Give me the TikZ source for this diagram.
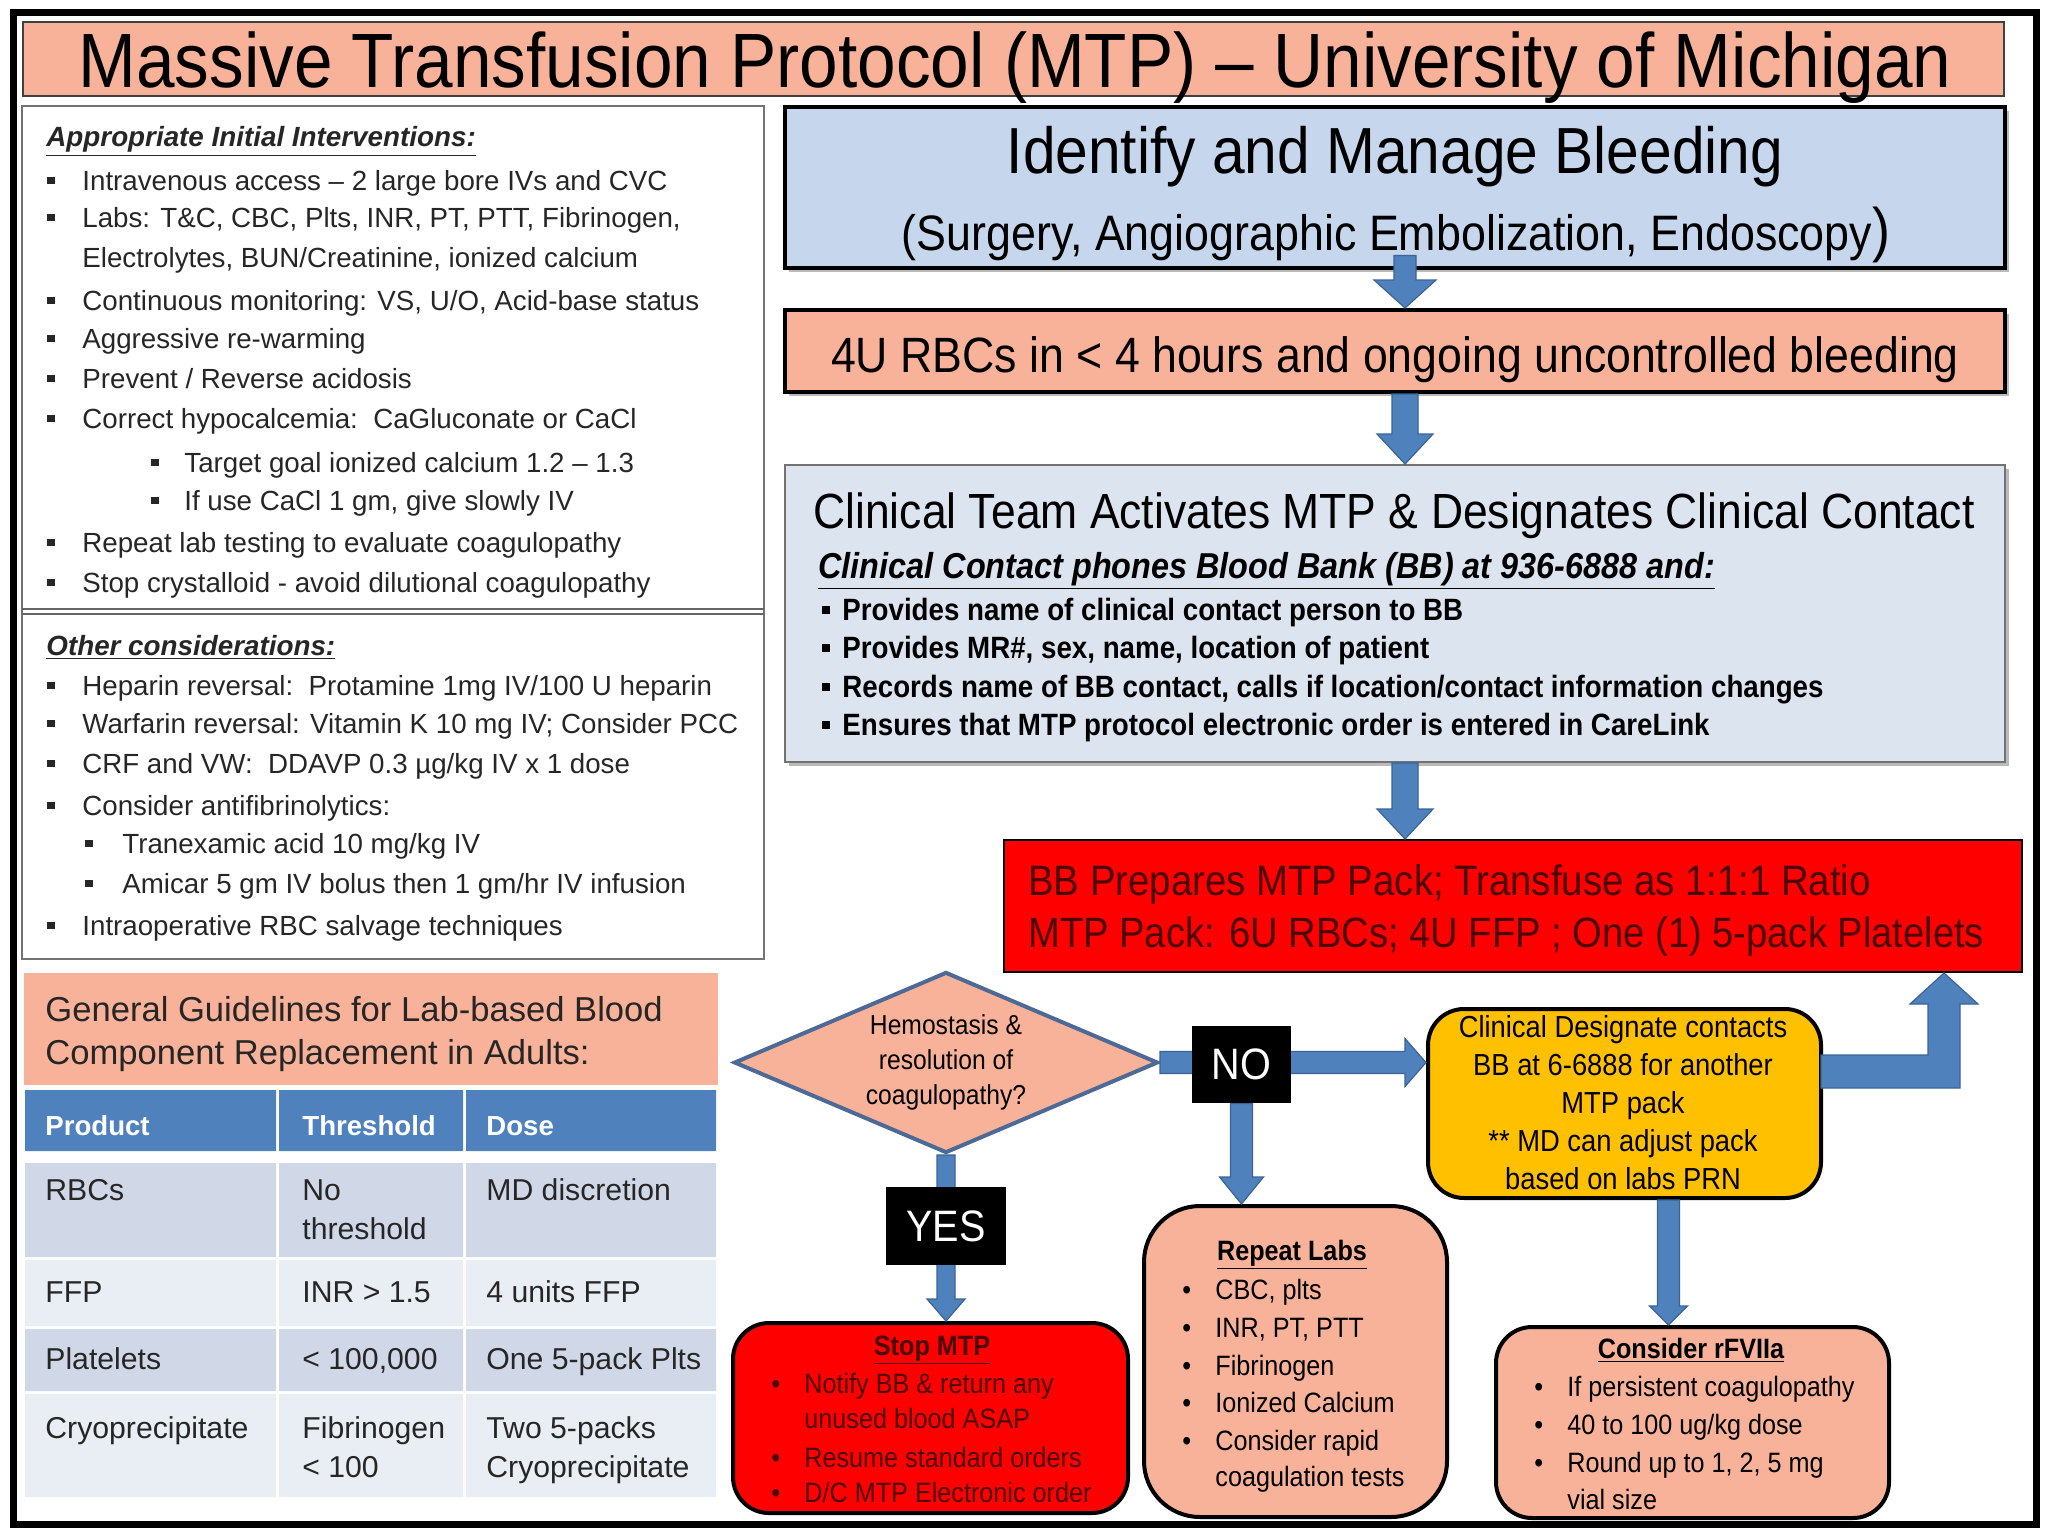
\documentclass[tikz,border=0pt]{standalone}
\usepackage{fontspec}
\setmainfont{Liberation Sans}[FakeStretch=0.9]
\newfontfamily\regf{Liberation Sans}
\usetikzlibrary{shapes.geometric,calc,shadows}
\definecolor{salmon}{HTML}{F9B29A}
\definecolor{idblue}{HTML}{C6D6EC}
\definecolor{clinblue}{HTML}{DCE4F0}
\definecolor{hdrblue}{HTML}{4F81BD}
\definecolor{rowdark}{HTML}{D0D8E8}
\definecolor{rowlight}{HTML}{E9EDF4}
\definecolor{arrowblue}{HTML}{4F81BD}
\definecolor{arrowedge}{HTML}{3A6496}
\definecolor{yelc}{HTML}{FFC000}
\definecolor{redc}{HTML}{FF0000}
\definecolor{darkredc}{HTML}{4A0505}
\definecolor{diaedge}{HTML}{4D6A96}
\definecolor{txtc}{HTML}{262626}
\newcommand{\fs}[1]{\fontsize{#1}{#1}\selectfont}
\newcommand{\sqb}[1]{\makebox[#1][l]{\rule[0.2em]{0.26em}{0.26em}}}
\newcommand{\dotb}[1]{\makebox[#1][l]{•}}
% vertical block arrow: #1 start, #2 target anchor, #3 shaft half, #4 head half, #5 head length, #6 id
\newcommand{\varrow}[6]{%
  \coordinate (#6s) at (#1);
  \coordinate (#6t) at (#6s |- #2);
  \filldraw[blockarrow] ($(#6s)+(-#3,0)$) -- ($(#6s)+(#3,0)$) -- ($(#6t)+(#3,-#5)$) -- ($(#6t)+(#4,-#5)$) -- (#6t) -- ($(#6t)+(-#4,-#5)$) -- ($(#6t)+(-#3,-#5)$) -- cycle;}
% horizontal block arrow (to the right)
\newcommand{\harrow}[6]{%
  \coordinate (#6s) at (#1);
  \coordinate (#6t) at (#6s -| #2);
  \filldraw[blockarrow] ($(#6s)+(0,-#3)$) -- ($(#6t)+(-#5,-#3)$) -- ($(#6t)+(-#5,-#4)$) -- (#6t) -- ($(#6t)+(-#5,#4)$) -- ($(#6t)+(-#5,#3)$) -- ($(#6s)+(0,#3)$) -- cycle;}
\pgfdeclarelayer{front}
\pgfsetlayers{main,front}
\begin{document}
\begin{tikzpicture}[x=0.5pt,y=-0.5pt,
  lt/.style={anchor=base west, inner sep=0pt, text=txtc, font=\regf\fs{13.85}},
  lh/.style={anchor=base west, inner sep=0pt, text=txtc, font=\regf\bfseries\itshape\fs{13.9}},
  tb/.style={anchor=base west, inner sep=0pt, text=txtc, font=\regf\fs{15.1}},
  th/.style={anchor=base west, inner sep=0pt, text=white, font=\regf\bfseries\fs{13.8}},
  ct/.style={anchor=base, inner sep=0pt},
  bt/.style={anchor=base west, inner sep=0pt},
  blockarrow/.style={fill=arrowblue, draw=arrowedge, line width=0.6pt},
  flowbox/.style={draw=black, line width=2pt, inner sep=0pt},
  shadowed/.style={drop shadow={shadow xshift=2pt, shadow yshift=-2pt, fill=black!45, opacity=0.6}},
]
\useasboundingbox (0,0) rectangle (2048,1536);
\fill[white] (0,0) rectangle (2048,1536);
\draw[line width=3.5pt] (13,13) rectangle (2036,1524);

% ---- title
\node[draw=black!75, line width=0.8pt, fill=salmon, minimum width=990.5pt, minimum height=37pt, inner sep=0pt] (title) at (1013.5,59) {};
\node[ct, font=\fs{38.5}] (ttl) at (1015,88) {Massive Transfusion Protocol (MTP) – University of Michigan};

% ---- left panel
\draw[draw=black!55, line width=1.2pt, fill=white] (22,106) rectangle (764,959);
\draw[draw=black!60, line width=1pt] (22,609) -- (764,609) (22,614) -- (764,614);

\node[lh] (h1) at (46,147) {\underline{Appropriate Initial Interventions:}};
\node[lt] (a1) at (47,190) {\sqb{17.5pt}Intravenous access – 2 large bore IVs and CVC};
\node[lt] (a2) at (47,227) {\sqb{17.5pt}Labs: T\&C, CBC, Plts, INR, PT, PTT, Fibrinogen,};
\node[lt] (a3) at (82,267) {Electrolytes, BUN/Creatinine, ionized calcium};
\node[lt] (a4) at (47,310) {\sqb{17.5pt}Continuous monitoring: VS, U/O, Acid-base status};
\node[lt] (a5) at (47,348) {\sqb{17.5pt}Aggressive re-warming};
\node[lt] (a6) at (47,388) {\sqb{17.5pt}Prevent / Reverse acidosis};
\node[lt] (a7) at (47,428) {\sqb{17.5pt}Correct hypocalcemia:\ \ CaGluconate or CaCl};
\node[lt] (a8) at (151,472) {\sqb{16.5pt}Target goal ionized calcium 1.2 – 1.3};
\node[lt] (a9) at (151,510) {\sqb{16.5pt}If use CaCl 1 gm, give slowly IV};
\node[lt] (a10) at (47,552) {\sqb{17.5pt}Repeat lab testing to evaluate coagulopathy};
\node[lt] (a11) at (47,592) {\sqb{17.5pt}Stop crystalloid - avoid dilutional coagulopathy};

\node[lh] (h2) at (46,655) {\underline{Other considerations:}};
\node[lt] (b1) at (47,695) {\sqb{17.5pt}Heparin reversal:\ \ Protamine 1mg IV/100 U heparin};
\node[lt] (b2) at (47,733) {\sqb{17.5pt}Warfarin reversal: Vitamin K 10 mg IV; Consider PCC};
\node[lt] (b3) at (47,773) {\sqb{17.5pt}CRF and VW:\ \ DDAVP 0.3 µg/kg IV x 1 dose};
\node[lt] (b4) at (47,815) {\sqb{17.5pt}Consider antifibrinolytics:};
\node[lt] (b5) at (85,853) {\sqb{18.5pt}Tranexamic acid 10 mg/kg IV};
\node[lt] (b6) at (85,893) {\sqb{18.5pt}Amicar 5 gm IV bolus then 1 gm/hr IV infusion};
\node[lt] (b7) at (47,935) {\sqb{17.5pt}Intraoperative RBC salvage techniques};

% ---- guidelines table
\fill[salmon] (24,973) rectangle (718,1085);
\node[bt, text=txtc, font=\regf\fs{17.3}] (g1) at (45,1021) {General Guidelines for Lab-based Blood};
\node[bt, text=txtc, font=\regf\fs{17.3}] (g2) at (45,1064) {Component Replacement in Adults:};
\fill[hdrblue] (25,1090) rectangle (276,1151) (279,1090) rectangle (463,1151) (466,1090) rectangle (716,1151);
\fill[rowdark] (25,1163) rectangle (276,1257) (279,1163) rectangle (463,1257) (466,1163) rectangle (716,1257);
\fill[rowlight] (25,1260) rectangle (276,1326) (279,1260) rectangle (463,1326) (466,1260) rectangle (716,1326);
\fill[rowdark] (25,1329) rectangle (276,1391) (279,1329) rectangle (463,1391) (466,1329) rectangle (716,1391);
\fill[rowlight] (25,1394) rectangle (276,1497) (279,1394) rectangle (463,1497) (466,1394) rectangle (716,1497);
\node[th] (t01) at (45,1135) {Product};
\node[th] (t02) at (302,1135) {Threshold};
\node[th] (t03) at (486,1135) {Dose};
\node[tb] (t11) at (45,1200) {RBCs};
\node[tb] (t12) at (302,1200) {No};
\node[tb] (t12b) at (302,1239) {threshold};
\node[tb] (t13) at (486,1200) {MD discretion};
\node[tb] (t21) at (45,1302) {FFP};
\node[tb] (t22) at (302,1302) {INR > 1.5};
\node[tb] (t23) at (486,1302) {4 units FFP};
\node[tb] (t31) at (45,1369) {Platelets};
\node[tb] (t32) at (302,1369) {< 100,000};
\node[tb] (t33) at (486,1369) {One 5-pack Plts};
\node[tb] (t41) at (45,1438) {Cryoprecipitate};
\node[tb] (t42) at (302,1438) {Fibrinogen};
\node[tb] (t42b) at (302,1477) {< 100};
\node[tb] (t43) at (486,1438) {Two 5-packs};
\node[tb] (t43b) at (486,1477) {Cryoprecipitate};

% ---- flow boxes
\node[flowbox, fill=idblue, minimum width=610pt, minimum height=80pt, shadowed] (idb) at (1395,187.5) {};
\node[ct, font=\fs{32.6}] (idt1) at (1395,173) {Identify and Manage Bleeding};
\node[ct, font=\fs{24.9}] (idt2) at (1396,250) {(Surgery, Angiographic Embolization, Endoscopy{\fs{30})}};

\node[flowbox, fill=salmon, minimum width=610pt, minimum height=41pt, shadowed] (fouru) at (1395,351) {};
\node[ct, font=\fs{24.8}] (fourt) at (1395,372) {4U RBCs in < 4 hours and ongoing uncontrolled bleeding};

\node[draw=black!55, line width=1pt, fill=clinblue, minimum width=610pt, minimum height=148.5pt, inner sep=0pt, shadowed] (clin) at (1395,613.5) {};
\node[bt, font=\fs{24.7}] (cl1) at (813,528) {Clinical Team Activates MTP \& Designates Clinical Contact};
\node[bt, font=\bfseries\itshape\fs{18}] (cl2) at (818,578) {\underline{Clinical Contact phones Blood Bank (BB) at 936-6888 and:}};
\node[bt, font=\bfseries\fs{15.4}] (cl3) at (822,620) {\sqb{10pt}Provides name of clinical contact person to BB};
\node[bt, font=\bfseries\fs{15.4}] (cl4) at (822,658) {\sqb{10pt}Provides MR\#, sex, name, location of patient};
\node[bt, font=\bfseries\fs{15.4}] (cl5) at (822,697) {\sqb{10pt}Records name of BB contact, calls if location/contact information changes};
\node[bt, font=\bfseries\fs{15.4}] (cl6) at (822,735) {\sqb{10pt}Ensures that MTP protocol electronic order is entered in CareLink};

\node[draw=black, line width=1pt, fill=redc, minimum width=509pt, minimum height=66pt, inner sep=0pt] (red) at (1513,906) {};
\node[bt, text=darkredc, font=\fs{21.3}] (rt1) at (1028,895) {BB Prepares MTP Pack; Transfuse as 1:1:1 Ratio};
\node[bt, text=darkredc, font=\fs{21.2}] (rt2) at (1028,947) {MTP Pack: 6U RBCs; 4U FFP ; One (1) 5-pack Platelets};

\node[diamond, draw=diaedge, line width=2pt, fill=salmon, minimum width=212pt, minimum height=90.5pt, shape aspect=2.34, inner sep=0pt, align=center, font={\fontsize{13.7}{17.5}\selectfont}] (dia) at (946,1062.5) {Hemostasis \&\\resolution of\\coagulopathy?};

\node[flowbox, fill=yelc, rounded corners=18pt, minimum width=196.5pt, minimum height=94.5pt] (yel) at (1624.5,1103.5) {};
\node[align=center, inner sep=0pt, font={\fontsize{15.2}{19}\selectfont}] (ytxt) at (1623,1103) {Clinical Designate contacts\\BB at 6-6888 for another\\MTP pack\\** MD can adjust pack\\based on labs PRN};

\node[flowbox, fill=salmon, rounded corners=28pt, minimum width=151.5pt, minimum height=155.5pt] (rep) at (1295.5,1361.5) {};
\node[ct, font=\bfseries\fs{14}] (rp0) at (1292,1260) {\underline{Repeat Labs}};
\node[bt, font=\fs{14}] (rp1) at (1182,1299) {\dotb{16.5pt}CBC, plts};
\node[bt, font=\fs{14}] (rp2) at (1182,1337) {\dotb{16.5pt}INR, PT, PTT};
\node[bt, font=\fs{14}] (rp3) at (1182,1375) {\dotb{16.5pt}Fibrinogen};
\node[bt, font=\fs{14}] (rp4) at (1182,1412) {\dotb{16.5pt}Ionized Calcium};
\node[bt, font=\fs{14}] (rp5) at (1182,1450) {\dotb{16.5pt}Consider rapid};
\node[bt, font=\fs{14}] (rp6) at (1215,1486) {coagulation tests};

\node[flowbox, fill=salmon, rounded corners=18pt, minimum width=196.5pt, minimum height=95.5pt] (rf) at (1692.5,1422.5) {};
\node[ct, font=\bfseries\fs{14}] (rf0) at (1691,1358) {\underline{Consider rFVIIa}};
\node[bt, font=\fs{14}] (rf1) at (1534,1396) {\dotb{16.5pt}If persistent coagulopathy};
\node[bt, font=\fs{14}] (rf2) at (1534,1434) {\dotb{16.5pt}40 to 100 ug/kg dose};
\node[bt, font=\fs{14}] (rf3) at (1534,1472) {\dotb{16.5pt}Round up to 1, 2, 5 mg};
\node[bt, font=\fs{14}] (rf4) at (1567,1509) {vial size};

\node[flowbox, fill=redc, rounded corners=18pt, minimum width=197.5pt, minimum height=95pt] (stop) at (930.5,1418) {};
\node[ct, text=darkredc, font=\bfseries\fs{14}] (st0) at (932,1355) {\underline{Stop MTP}};
\node[bt, text=darkredc, font=\fs{14}] (st1) at (771,1393) {\dotb{16.5pt}Notify BB \& return any};
\node[bt, text=darkredc, font=\fs{14}] (st2) at (804,1428) {unused blood ASAP};
\node[bt, text=darkredc, font=\fs{14}] (st3) at (771,1467) {\dotb{16.5pt}Resume standard orders};
\node[bt, text=darkredc, font=\fs{14}] (st4) at (771,1502) {\dotb{16.5pt}D/C MTP Electronic order};

% ---- labels on top
\begin{pgfonlayer}{front}
\node[fill=black, minimum width=49.5pt, minimum height=38.5pt, inner sep=0pt, text=white, font=\fs{22}] (no) at (1241.5,1064.5) {NO};
\node[fill=black, minimum width=60pt, minimum height=39pt, inner sep=0pt, text=white, font=\fs{22}] (yes) at (946,1226) {YES};
\end{pgfonlayer}

% ---- arrows
\varrow{$(idb.south)+(10,-14)$}{fouru.north}{11}{31}{28}{aA}
\varrow{$(fouru.south)+(10,0)$}{clin.north}{13}{28}{30}{aB}
\varrow{$(clin.south)+(10,0)$}{red.north}{13}{28}{30}{aC}
\harrow{dia.east}{yel.west}{11}{24}{21}{aN}
\varrow{no.south}{rep.north}{11}{22}{27}{aD}
\varrow{dia.south}{stop.north}{9}{19}{22}{aY}
\varrow{$(yel.south)+(44,0)$}{rf.north}{11}{19}{19}{aR}
% elbow arrow from yellow box up to red box
\coordinate (eh) at ($(yel.east)+(0,-32)$);
\coordinate (ev) at ($(red.south)+(431,0)$);
\coordinate (ec) at (ev |- eh);
\filldraw[blockarrow] ($(eh)+(-2,-16.5)$) -- ($(ec)+(-16,-16.5)$) -- ($(ev)+(-16,31)$) -- ($(ev)+(-34,31)$) -- (ev) -- ($(ev)+(34,31)$) -- ($(ev)+(16,31)$) -- ($(ec)+(16,16.5)$) -- ($(eh)+(-2,16.5)$) -- cycle;
\end{tikzpicture}
\end{document}
